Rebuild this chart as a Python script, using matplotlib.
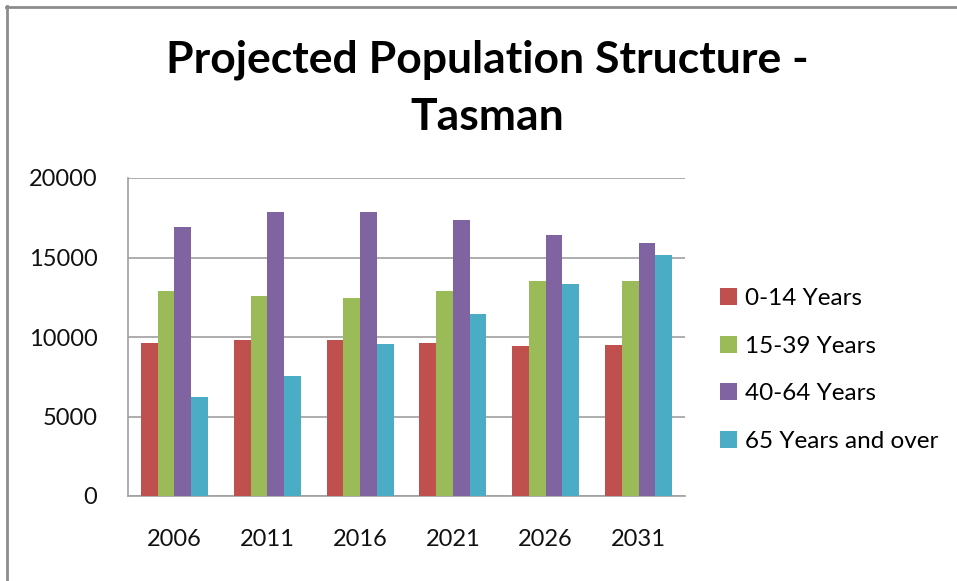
import matplotlib
matplotlib.use("Agg")
import matplotlib.pyplot as plt
import numpy as np
from matplotlib.lines import Line2D

years = ["2006", "2011", "2016", "2021", "2026", "2031"]
age_0_14 = [9650, 9800, 9800, 9650, 9420, 9500]
age_15_39 = [12870, 12550, 12470, 12870, 13510, 13510]
age_40_64 = [16900, 17850, 17850, 17370, 16400, 15940]
age_65_plus = [6200, 7550, 9580, 11420, 13350, 15130]

series_labels = ["0-14 Years", "15-39 Years", "40-64 Years", "65 Years and over"]
colors = ["#C0504D", "#9BBB59", "#8064A2", "#4BACC6"]

plt.rcParams["font.family"] = ["Lato", "DejaVu Sans"]

fig = plt.figure(figsize=(9.57, 5.81), dpi=100)
ax = fig.add_axes([128 / 957, 1 - 496 / 581, 557 / 957, 318 / 581])

x = np.arange(len(years))
w = 0.18
all_series = [age_0_14, age_15_39, age_40_64, age_65_plus]
for i, (vals, lab, col) in enumerate(zip(all_series, series_labels, colors)):
    ax.bar(x + (i - 1.5) * w, vals, w, color=col, label=lab, zorder=3)

ax.set_xlim(-0.5, len(years) - 0.5)
ax.set_ylim(0, 20000)
ax.set_yticks([0, 5000, 10000, 15000, 20000])
ax.set_xticks(x)
ax.set_xticklabels(years)
ax.tick_params(axis="both", labelsize=17, length=0, colors="#111111")
ax.tick_params(axis="y", pad=22)
ax.tick_params(axis="x", pad=24)
ax.grid(axis="y", color="#A0A0A0", linewidth=1.2, zorder=0)
for side in ["top", "right"]:
    ax.spines[side].set_visible(False)
ax.spines["left"].set_color("#A0A0A0")
ax.spines["bottom"].set_color("#A0A0A0")
ax.spines["left"].set_linewidth(1.2)
ax.spines["bottom"].set_linewidth(1.2)

fig.text(487 / 957, 1 - 60 / 581, "Projected Population Structure -",
         ha="center", va="center", fontsize=32, fontweight="bold")
fig.text(487 / 957, 1 - 117 / 581, "Tasman",
         ha="center", va="center", fontsize=32, fontweight="bold")

leg = fig.legend(loc="upper left", bbox_to_anchor=(698 / 957, 1 - 266 / 581),
                 frameon=False, fontsize=17.5, handlelength=0.7, handleheight=0.7,
                 handletextpad=0.35, labelspacing=1.1)

# chart frame: only the top and left edges are visible
fig.lines.append(Line2D([6 / 957, 1.0], [1 - 6.5 / 581, 1 - 6.5 / 581],
                        transform=fig.transFigure, color="#8C8C8C", linewidth=2))
fig.lines.append(Line2D([6.5 / 957, 6.5 / 957], [0.0, 1 - 6 / 581],
                        transform=fig.transFigure, color="#8C8C8C", linewidth=2))

fig.savefig("out.png", dpi=100)
